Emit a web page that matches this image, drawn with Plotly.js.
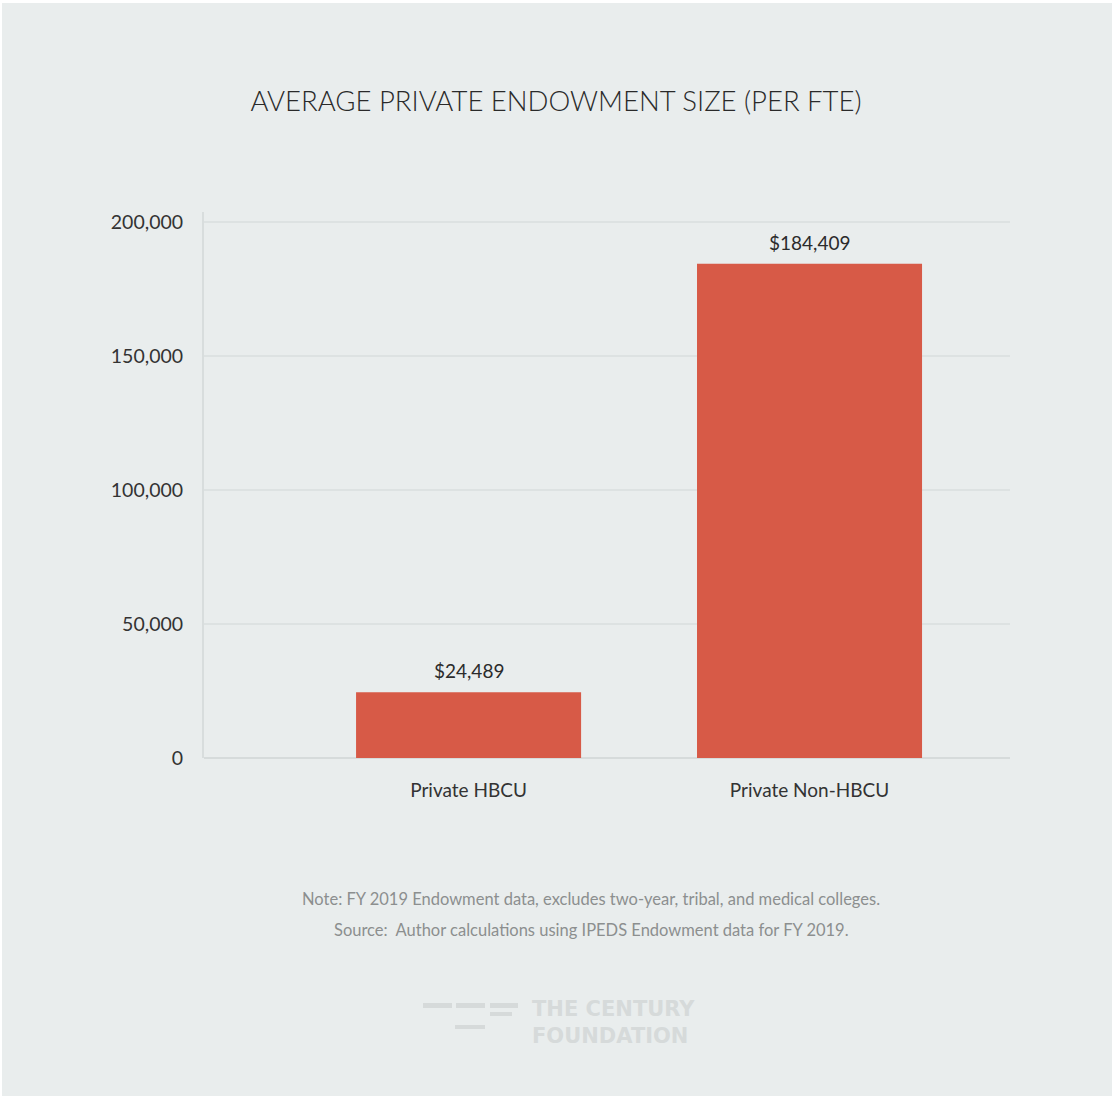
<!DOCTYPE html>
<html>
<head>
<meta charset="utf-8">
<script src="https://cdn.plot.ly/plotly-3.0.1.min.js"></script>
<style>
  html, body { margin: 0; padding: 0; background: #ffffff; }
  #chart { position: absolute; left: 2px; top: 3px; width: 1110px; height: 1093px; }
</style>
</head>
<body>
<div id="chart"></div>
<script>
// Average private endowment per full-time-equivalent student, FY 2019
const categories = ["Private HBCU", "Private Non-HBCU"];
const endowmentPerFTE = [24489, 184409];
const yTickValues = [0, 50000, 100000, 150000, 200000];
const yTickLabels = ["0", "50,000", "100,000", "150,000", "200,000"];

const titleText = "AVERAGE PRIVATE ENDOWMENT SIZE (PER FTE)";
const noteLines = [
  "Note: FY 2019 Endowment data, excludes two-year, tribal, and medical colleges.",
  "Source:  Author calculations using IPEDS Endowment data for FY 2019."
];
const logoLines = ["THE CENTURY", "FOUNDATION"];

// Plot-area geometry in div pixels, used to place the decorative items
const W = 1110, H = 1093;
const M = { l: 202, r: 102, t: 209, b: 338 };
const plotW = W - M.l - M.r, plotH = H - M.t - M.b;
const px = x => (x - 2 - M.l) / plotW;          // page x -> paper x
const py = y => (H - M.b - (y - 3)) / plotH;     // page y -> paper y

const fmtMoney = v => "$" + v.toLocaleString("en-US");

const bar = {
  type: "bar",
  x: categories,
  y: endowmentPerFTE,
  width: 0.66,
  marker: { color: "#d75a47", line: { width: 0 } },
  hoverinfo: "skip"
};

const annotations = [];
categories.forEach((c, i) => {
  annotations.push({
    x: c, y: endowmentPerFTE[i], xref: "x", yref: "y",
    text: fmtMoney(endowmentPerFTE[i]),
    showarrow: false, yanchor: "bottom", yshift: 8,
    font: { family: "Lato, sans-serif", size: 19, color: "#2b2b2b" }
  });
});
noteLines.forEach((t, i) => {
  annotations.push({
    x: px(591), y: py(899 + i * 31), xref: "paper", yref: "paper",
    text: t, showarrow: false, xanchor: "center", yanchor: "middle",
    font: { family: "Lato, sans-serif", size: 16.5, color: "#8c8f8f" }
  });
});
// Wordmark, two lines in one block
annotations.push({
  x: px(530), y: py(1022), xref: "paper", yref: "paper",
  text: "<b>" + logoLines.join("<br>") + "</b>", align: "left",
  showarrow: false, xanchor: "left", yanchor: "middle",
  font: { family: "DejaVu Sans, sans-serif", size: 21, color: "#d6dada" }
});

// Logo mark: stacked horizontal dashes
const dashes = [
  [423, 452, 1003, 1008], [456, 485, 1003, 1008], [490, 518, 1003, 1008],
  [490, 512, 1012, 1016], [455, 485, 1025, 1029]
];
const shapes = dashes.map(d => ({
  type: "rect", xref: "paper", yref: "paper",
  x0: px(d[0]), x1: px(d[1]), y0: py(d[3]), y1: py(d[2]),
  fillcolor: "#d6dada", line: { width: 0 }, layer: "above"
}));

const layout = {
  width: W, height: H,
  margin: M,
  paper_bgcolor: "#e9eded",
  plot_bgcolor: "#e9eded",
  showlegend: false,
  title: {
    text: titleText,
    x: (556 - 2) / W, xref: "container", xanchor: "center",
    y: 1 - (101 - 3) / H, yref: "container", yanchor: "middle",
    font: { family: "Lato, sans-serif", size: 27.5, color: "#2a2a2a", weight: 300 }
  },
  xaxis: {
    type: "category",
    range: [-0.776, 1.588],
    showgrid: false,
    zeroline: false,
    showline: false,
    ticks: "outside", ticklen: 15, tickcolor: "rgba(0,0,0,0)",
    tickfont: { family: "Lato, sans-serif", size: 19, color: "#333333" },
    fixedrange: true
  },
  yaxis: {
    range: [0, 203700],
    tickvals: yTickValues,
    ticktext: yTickLabels,
    showgrid: true, gridcolor: "#dde2e2", gridwidth: 1.5,
    zeroline: true, zerolinecolor: "#d6dbdb", zerolinewidth: 2,
    showline: true, linecolor: "#d8dddd", linewidth: 2,
    ticks: "outside", ticklen: 15, tickcolor: "rgba(0,0,0,0)",
    tickfont: { family: "Lato, sans-serif", size: 19.5, color: "#333333" },
    fixedrange: true
  },
  annotations: annotations,
  shapes: shapes
};

Plotly.newPlot("chart", [bar], layout, { displayModeBar: false, staticPlot: true });
</script>
</body>
</html>
